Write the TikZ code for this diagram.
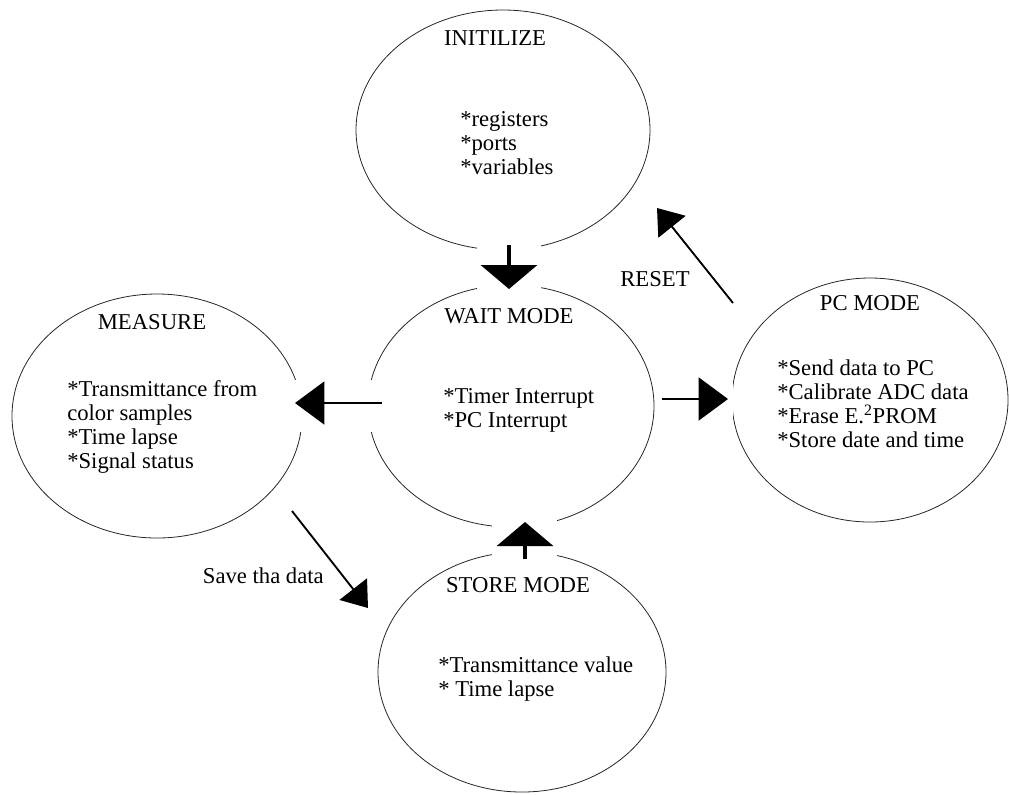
\documentclass[tikz,border=0pt]{standalone}
\usepackage{fontspec}
\setmainfont{Liberation Serif}
\usetikzlibrary{shapes.geometric, arrows.meta, calc}

\tikzset{
  state/.style 2 args={ellipse, draw=black!85, line width=0.6pt, inner sep=0pt,
    minimum width=#1*1.5pt, minimum height=#2*1.5pt},
  title/.style={font=\fontsize{17}{18}\selectfont, inner sep=0pt},
  items/.style={font=\fontsize{17}{18}\selectfont, align=left, anchor=west, inner sep=0pt},
  bigarrow/.style={line width=3pt, -{Triangle[length=18pt, width=42pt]}},
  midarrow/.style={line width=2.2pt, -{Triangle[length=22pt, width=32pt]}},
  thinarrow/.style={line width=1.4pt, -{Triangle[length=18pt, width=26pt]}},
  gap/.style={fill=white}
}

\begin{document}
\begin{tikzpicture}[x=0.75pt, y=-0.75pt]
  \useasboundingbox (0,0) rectangle (1009,794);

  % States
  \node[state={147}{120}] (init) at (503,130) {};
  \node[state={143}{121}] (wait) at (511,406) {};
  \node[state={145}{122}] (measure) at (157,416) {};
  \node[state={138}{122}] (pc) at (870,400) {};
  \node[state={144}{120}] (store) at (522,672) {};

  % Titles and lists
  \node[title] (initT) at (495,38) {INITILIZE};
  \node[items] (initL) at (460,143) {*registers\\*ports\\*variables};
  \node[title] (waitT) at (509,316) {WAIT MODE};
  \node[items] (waitL) at (443,410) {*Timer Interrupt\\*PC Interrupt};
  \node[title] (measureT) at (152,322) {MEASURE};
  \node[items] (measureL) at (67,427) {*Transmittance from\\color samples\\*Time lapse\\*Signal status};
  \node[title] (pcT) at (870,303) {PC MODE};
  \node[items] (pcL) at (777,404) {*Send data to PC\\*Calibrate ADC data\\*Erase E.\textsuperscript{2}PROM\\*Store date and time};
  \node[title] (storeT) at (518,585) {STORE MODE};
  \node[items] (storeL) at (438,679) {*Transmittance value\\* Time lapse};

  % Arrow ends
  \coordinate (downA) at (509,245);
  \coordinate (downB) at (509,289);
  \coordinate (leftA) at (382,403);
  \coordinate (leftB) at (295,403);
  \coordinate (rightA) at (662,399);
  \coordinate (rightB) at (728,399);
  \coordinate (upA) at (525,559);
  \coordinate (upB) at (525,522);
  \coordinate (resetA) at (733,303);
  \coordinate (resetB) at (657,208);
  \coordinate (saveA) at (292,511);
  \coordinate (saveB) at (368,608);

  % Gaps in the outlines round the arrows
  \fill[gap] ($(downA)+(-32,-3)$) rectangle ($(downB)+(32,4)$);
  \fill[gap] ($(leftB)+(-5,-23)$) rectangle ($(leftA)+(5,29)$);
  \fill[gap] ($(rightA)+(-5,-27)$) rectangle ($(rightB)+(5,33)$);
  \fill[gap] ($(upB)+(-33,-4)$) rectangle ($(upA)+(32,3)$);

  % Arrows
  \draw[bigarrow] (downA) -- (downB);
  \draw[midarrow] (leftA) -- (leftB);
  \draw[midarrow] (rightA) -- (rightB);
  \draw[bigarrow] (upA) -- (upB);
  \draw[thinarrow] (resetA) -- (resetB);
  \draw[thinarrow] (saveA) -- (saveB);

  % Labels
  \node[title] (reset) at (655,279) {RESET};
  \node[title, anchor=east] (save) at (324,576) {Save tha data};
\end{tikzpicture}
\end{document}
